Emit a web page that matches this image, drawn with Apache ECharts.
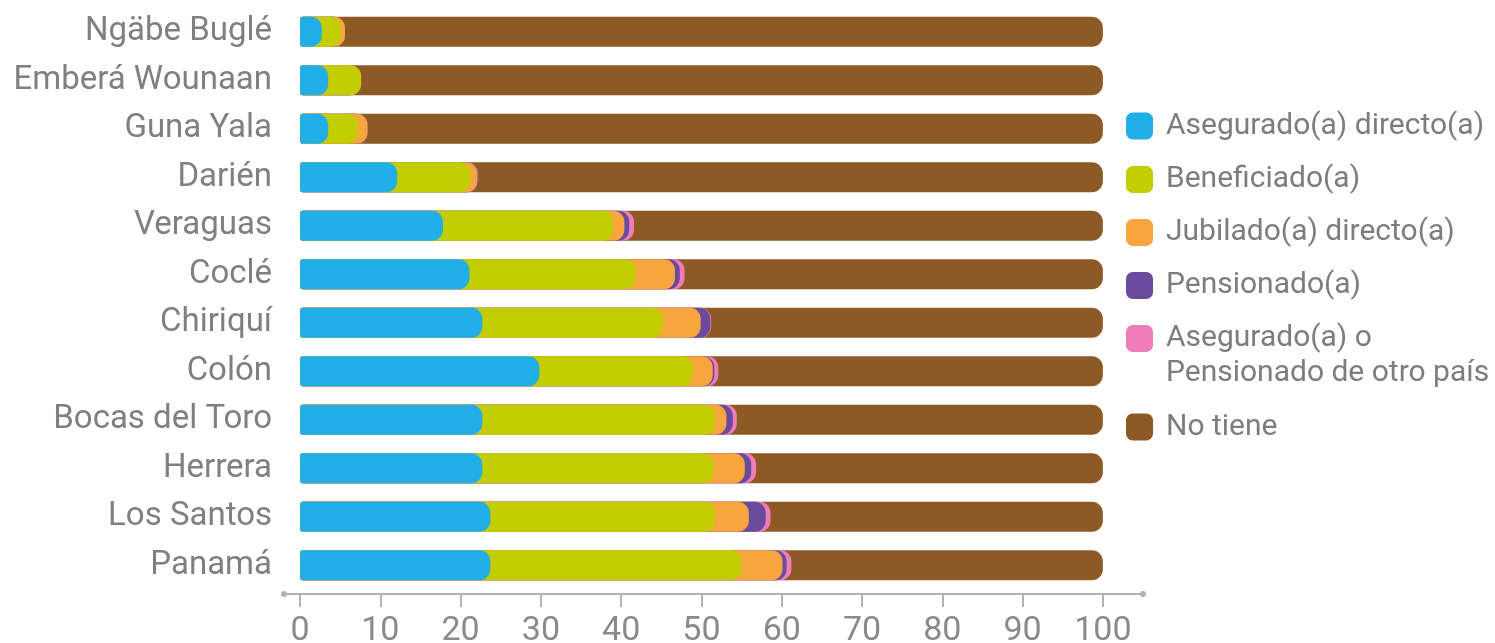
<!DOCTYPE html>
<html>
<head>
<meta charset="utf-8">
<script src="https://cdn.jsdelivr.net/npm/echarts@6/dist/echarts.min.js"></script>
<style>
html,body{margin:0;padding:0;background:#fff;}
#chart{width:1495px;height:643px;}
</style>
</head>
<body>
<div id="chart"></div>
<script>
const categories = ['Ngäbe Buglé','Emberá Wounaan','Guna Yala','Darién','Veraguas','Coclé','Chiriquí','Colón','Bocas del Toro','Herrera','Los Santos','Panamá'];
const seriesNames = ['Asegurado(a) directo(a)','Beneficiado(a)','Jubilado(a) directo(a)','Pensionado(a)','Asegurado(a) o Pensionado de otro país','No tiene'];
const asegurado   = [2.7, 3.5, 3.5, 12.1, 17.8, 21.1, 22.7, 29.8, 22.7, 22.7, 23.7, 23.7];
const beneficiado = [2.4, 4.1, 3.7,  9.1, 21.2, 20.7, 22.5, 19.1, 29.0, 28.8, 28.0, 31.3];
const jubilado    = [0.5, 0.0, 1.2,  0.9,  1.4,  4.9,  4.7,  2.5,  1.4,  3.9,  4.2,  5.1];
const pensionado  = [0.0, 0.0, 0.0,  0.1,  0.6,  0.6,  1.2,  0.2,  0.8,  0.8,  2.1,  0.5];
const otroPais    = [0.0, 0.0, 0.0,  0.0,  0.6,  0.6,  0.1,  0.5,  0.5,  0.6,  0.6,  0.6];
const noTiene     = [94.4, 92.4, 91.6, 77.8, 58.4, 52.1, 48.8, 47.9, 45.6, 43.2, 41.4, 38.8];
const xTicks = [0,10,20,30,40,50,60,70,80,90,100];
const colors = ['#22aee6','#c2cd02','#f7a53c','#6a4a9c','#ef7db7','#8d5a25'];

const segs = [asegurado, beneficiado, jubilado, pensionado, otroPais, noTiene];
// cumulative ends: each segment drawn as an overlapping bar from 0 to its cumulative end,
// earlier segments on top (matches the rounded overlapping look)
const cumul = [];
let run = categories.map(() => 0);
segs.forEach(arr => {
  run = run.map((v, i) => +(v + arr[i]).toFixed(2));
  cumul.push(run.slice());
});

const series = seriesNames.map((name, k) => ({
  name: name,
  type: 'bar',
  barWidth: 30,
  barGap: '-100%',
  z: 10 - k,
  itemStyle: { color: colors[k], borderRadius: [3, 11, 11, 3] },
  emphasis: { disabled: true },
  data: cumul[k]
}));

const legendCenters = [126, 179.5, 232.5, 285.5, 338.5, 427];
const legends = seriesNames.map((name, k) => {
  const two = k === 4;
  return {
    data: [name],
    left: 1126,
    top: two ? legendCenters[k] - 52.5 : legendCenters[k] - 15,
    padding: 0,
    orient: 'vertical',
    icon: 'roundRect',
    itemWidth: 27,
    itemHeight: 27,
    selectedMode: false,
    formatter: two ? () => '\nAsegurado(a) o\nPensionado de otro país' : undefined,
    textStyle: {
      fontFamily: 'Roboto',
      fontSize: 30,
      color: '#7d7d7d',
      lineHeight: two ? 35 : 30,
      padding: [0, 0, 0, 8]
    }
  };
});

const chart = echarts.init(document.getElementById('chart'), null, { renderer: 'canvas' });
chart.setOption({
  animation: false,
  backgroundColor: '#ffffff',
  legend: legends,
  grid: { left: 284, right: 352, top: 7.5, height: 582, containLabel: false, outerBoundsMode: 'none' },
  xAxis: {
    type: 'value',
    min: -2,
    max: 105,
    offset: 4.5,
    splitLine: { show: false },
    axisLine: {
      show: true,
      onZero: false,
      symbol: ['circle', 'circle'],
      symbolSize: [6, 6],
      lineStyle: { color: '#b3b3b3', width: 2 }
    },
    axisTick: { show: true, customValues: xTicks, length: 13, lineStyle: { color: '#b3b3b3', width: 2 } },
    axisLabel: {
      customValues: xTicks,
      margin: 20,
      fontFamily: 'Roboto',
      fontSize: 34,
      color: '#8a8a8a'
    }
  },
  yAxis: {
    type: 'category',
    inverse: true,
    data: categories,
    axisLine: { show: false, onZero: false },
    axisTick: { show: false },
    splitLine: { show: false },
    axisLabel: {
      margin: 12,
      fontFamily: 'Roboto',
      fontSize: 33,
      color: '#808080'
    }
  },
  series: series
});
</script>
</body>
</html>
